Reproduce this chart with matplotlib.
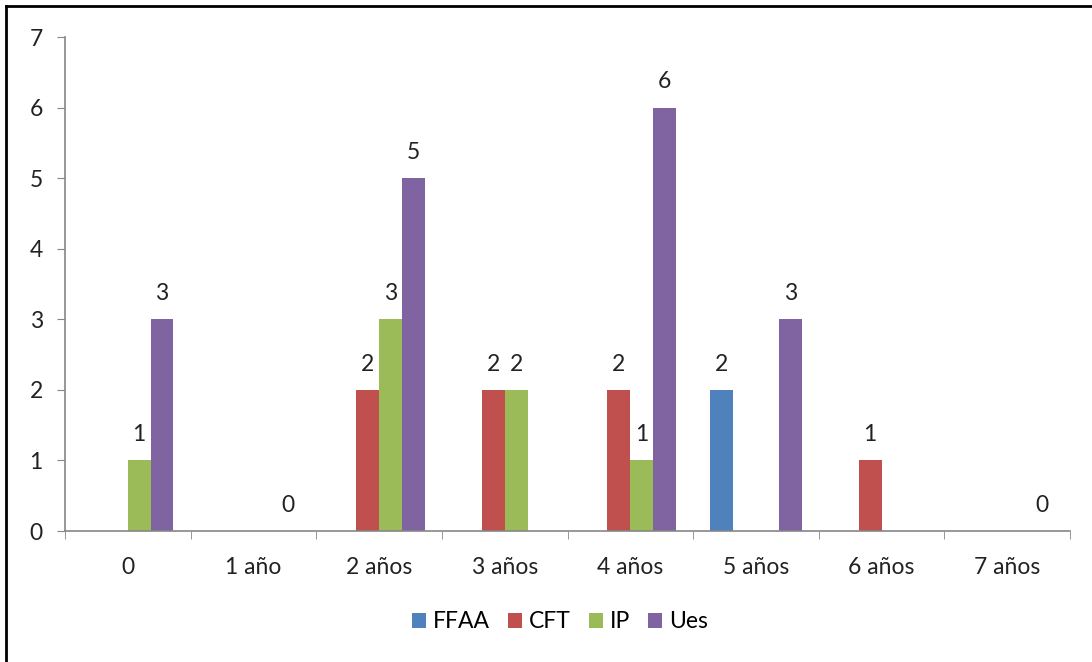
import numpy as np
import matplotlib.pyplot as plt
from matplotlib.lines import Line2D

plt.rcParams['font.family'] = ['Lato', 'DejaVu Sans']

categories = ["0", "1 año", "2 años", "3 años", "4 años", "5 años", "6 años", "7 años"]
series_names = ["FFAA", "CFT", "IP", "Ues"]
# None = empty cell (no bar, no label)
ffaa = [None, None, None, None, None, 2, None, None]
cft = [None, None, 2, 2, 2, None, 1, None]
ip = [1, None, 3, 2, 1, None, None, None]
ues = [3, 0, 5, None, 6, 3, None, 0]
colors = ["#4f81bd", "#c0504d", "#9bbb59", "#8064a2"]

fs = 16.5

fig = plt.figure(figsize=(10.92, 6.62), dpi=100)
ax = fig.add_axes([65 / 1092, 131 / 662, 1005 / 1092, 494 / 662])

x = np.arange(len(categories))
w = 1 / 5.5
offsets = [-1.5 * w, -0.5 * w, 0.5 * w, 1.5 * w]

for vals, name, col, off in zip([ffaa, cft, ip, ues], series_names, colors, offsets):
    xs = [xi + off for xi, v in zip(x, vals) if v is not None]
    ys = [v for v in vals if v is not None]
    ax.bar(xs, ys, width=w, color=col, label=name)
    for xi, v in zip(xs, ys):
        ax.annotate(str(v), (xi, v), xytext=(0, 11), textcoords="offset points",
                    ha="center", va="bottom", fontsize=fs, color="#222222")

ax.set_xlim(-0.5, len(categories) - 0.5)
ax.set_ylim(0, 7)
ax.set_yticks(range(0, 8))
ax.set_xticks(x)
ax.set_xticklabels(categories)
ax.set_xticks(np.arange(-0.5, len(categories)), minor=True)
ax.tick_params(axis="x", which="major", length=0, pad=19, labelsize=fs, colors="#222222")
ax.tick_params(axis="x", which="minor", length=6, color="#868686")
ax.tick_params(axis="y", length=6, color="#868686", pad=10, labelsize=fs, labelcolor="#222222")
for s in ["top", "right"]:
    ax.spines[s].set_visible(False)
for s in ["left", "bottom"]:
    ax.spines[s].set_color("#868686")
    ax.spines[s].set_linewidth(1.2)

leg = ax.legend(loc="center", bbox_to_anchor=(560 / 1092, 40 / 662), bbox_transform=fig.transFigure,
                ncol=4, frameon=False, fontsize=fs, handlelength=0.6, handleheight=0.6,
                handletextpad=0.3, columnspacing=0.8)

# outer frame (left and top edges visible)
fig.add_artist(Line2D([6 / 1092, 6 / 1092], [0, 1 - 6 / 662], color="black", lw=2,
                      transform=fig.transFigure))
fig.add_artist(Line2D([6 / 1092, 1], [1 - 6 / 662, 1 - 6 / 662], color="black", lw=2,
                      transform=fig.transFigure))

fig.savefig("out.png", dpi=100)
